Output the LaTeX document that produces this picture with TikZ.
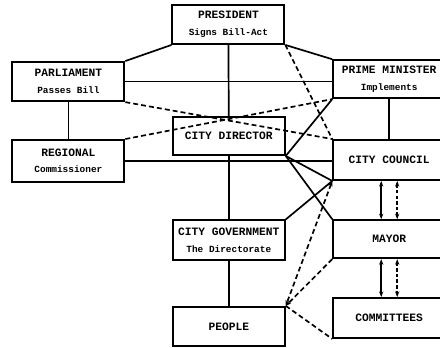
\documentclass[tikz,border=0pt]{standalone}
\usepackage{fontspec}
\newfontfamily\boxfont{Liberation Mono}
\usetikzlibrary{arrows.meta}

\newcommand{\boxsub}[1]{\\[3pt]{\fontsize{6.7}{7}\selectfont #1}}

\begin{document}
\begin{tikzpicture}[every node/.style={align=center},
  box/.style={draw,line width=1.35pt,minimum width=2.8cm,minimum height=0.98cm,font=\boxfont\bfseries\fontsize{8}{9}\selectfont},
  link/.style={line width=1.2pt},
  dlink/.style={link,dash pattern=on 3.5pt off 2.2pt},
  tips/.style={{Stealth[length=4pt,width=3pt]}-{Stealth[length=4pt,width=3pt]}}]
\useasboundingbox (0,0) rectangle (11,8.7);
% left column
\node[box] (parl) at (1.71,6.66) {PARLIAMENT\boxsub{Passes Bill}};
\node[box,minimum height=1.04cm] (reg) at (1.71,4.68) {REGIONAL\boxsub{Commissioner}};
% middle column
\node[box] (pres) at (5.71,8.09) {PRESIDENT\boxsub{Signs Bill-Act}};
\node[box,minimum height=0.95cm] (dir) at (5.72,5.3) {CITY DIRECTOR};
\node[box] (gov) at (5.72,2.7) {CITY GOVERNMENT\boxsub{The Directorate}};
\node[box] (people) at (5.72,0.54) {PEOPLE};
% right column
\node[box,minimum height=0.95cm] (pm) at (9.73,6.72) {PRIME MINISTER\boxsub{Implements}};
\node[box,minimum height=1cm] (council) at (9.73,4.7) {CITY COUNCIL};
\node[box,minimum height=0.95cm] (mayor) at (9.73,2.72) {MAYOR};
\node[box,minimum height=1cm] (comm) at (9.73,0.75) {COMMITTEES};

% solid links
\draw[link] (pres.south west) -- (parl.north east);
\draw[link] (pres.south east) -- (pm.north west);
\draw[link] (parl.east) -- (parl.east -| pm.west);
\draw[link] (pres.south) -- (dir.north);
\draw[link] (parl.south) -- (reg.north);
\draw[link] (reg.east) -- (reg.east -| council.west);
\draw[link] (pm.south west) -- (dir.south east);
\draw[link] (pm.south) -- (council.north);
\draw[link] (dir.south east) -- (council.south west);
\draw[link] (dir.south east) -- (mayor.north west);
\draw[link] (gov.north east) -- (council.south west);
\draw[link] (dir.south) -- (gov.north);
\draw[link] (gov.south) -- (people.north);
% dashed links
\draw[dlink] (parl.south east) -- (council.north west);
\draw[dlink] (reg.north east) -- (pm.south west);
\draw[dlink] (pres.south east) -- (council.north west);
\draw[dlink,tips] (council.south west) -- (people.north east);
\draw[dlink,-{Stealth[length=4pt,width=3pt]}] (mayor.south west) -- (people.north east);
\draw[dlink] (people.north east) -- (comm.south west);
% council, mayor and committees
\draw[link,tips] ([xshift=-0.2cm]council.south) -- ([xshift=-0.2cm]mayor.north);
\draw[dlink,tips,dash pattern=on 2.5pt off 1.5pt] ([xshift=0.2cm]council.south) -- ([xshift=0.2cm]mayor.north);
\draw[link,tips] ([xshift=-0.2cm]mayor.south) -- ([xshift=-0.2cm]comm.north);
\draw[dlink,tips,dash pattern=on 2.5pt off 1.5pt] ([xshift=0.2cm]mayor.south) -- ([xshift=0.2cm]comm.north);
\end{tikzpicture}
\end{document}
